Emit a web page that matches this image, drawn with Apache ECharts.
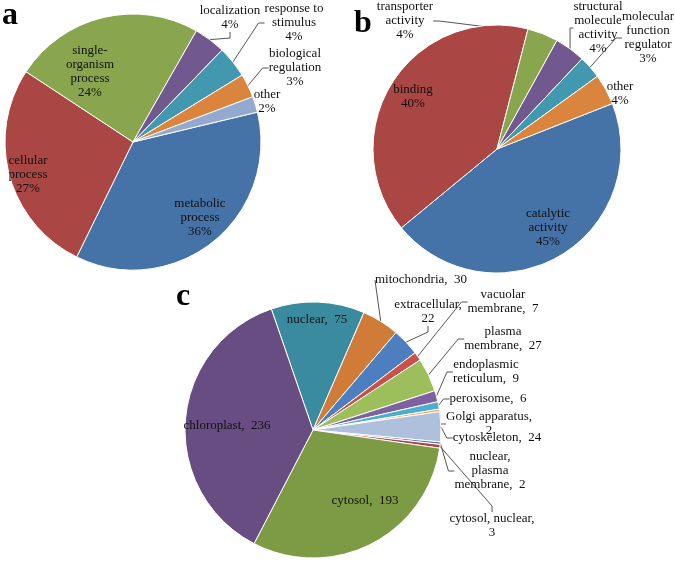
<!DOCTYPE html>
<html>
<head>
<meta charset="utf-8">
<script src="https://cdn.jsdelivr.net/npm/echarts@6/dist/echarts.min.js"></script>
<style>
  html, body { margin: 0; padding: 0; background: #fff; }
  #chart { width: 675px; height: 563px; }
</style>
</head>
<body>
<div id="chart"></div>
<script>
// panel a - biological process (%)
const namesA = ['metabolic\nprocess', 'cellular\nprocess', 'single-\norganism\nprocess', 'localization',
  'response to\nstimulus', 'biological\nregulation', 'other']
const valuesA = [36, 27, 24, 4, 4, 3, 2]
const colorsA = ['#4572A7', '#AA4643', '#89A54E', '#71588F', '#4198AF', '#DB843D', '#93A9CF']

// panel b - molecular function (%)
const namesB = ['catalytic\nactivity', 'binding', 'transporter\nactivity', 'structural\nmolecule\nactivity',
  'molecular\nfunction\nregulator', 'other']
const valuesB = [45, 40, 4, 4, 3, 4]
const colorsB = ['#4572A7', '#AA4643', '#89A54E', '#71588F', '#4198AF', '#DB843D']

// panel c - cellular component (counts)
const namesC = ['nuclear', 'mitochondria', 'extracellular', 'vacuolar\nmembrane', 'plasma\nmembrane',
  'endoplasmic\nreticulum', 'peroxisome', 'Golgi apparatus', 'cytoskeleton', 'nuclear,\nplasma\nmembrane',
  'cytosol, nuclear', 'cytosol', 'chloroplast']
const valuesC = [75, 30, 22, 7, 27, 9, 6, 2, 24, 2, 3, 193, 236]
const colorsC = ['#3B8BA0', '#D07C38', '#4C7EC0', '#C8504D', '#9DBF5B', '#7E62A0', '#4BAFCB', '#F9A24D',
  '#AFC0DC', '#4F81BD', '#B8403E', '#7D9B44', '#684D82']
// value goes on its own line for these labels
const wrapValueC = ['extracellular', 'Golgi apparatus', 'cytosol, nuclear']

// label anchors (center of text block) and which labels get a leader line
const labelPos = [
  [[200, 218], [28, 175], [90, 72], [230, 18], [294, 23], [295, 68], [267, 102]],
  [[548, 228], [413, 97], [405, 21], [598, 28], [648, 38], [620, 94]],
  [[317, 320], [421, 280], [428, 312], [503, 302], [503, 339], [486, 372], [488, 399], [489, 424],
    [497, 438], [490, 471], [492, 526], [365, 501], [227, 426]]
]
const leaders = [[3, 4, 5], [2, 3, 4], [1, 2, 3, 4, 5, 6, 7, 8, 9, 10]]

const font = 'Liberation Serif'

function makeSeries(idx, names, values, colors, center, radius, startAngle, fmt) {
  return {
    type: 'pie',
    center: center,
    radius: radius,
    startAngle: startAngle,
    clockwise: true,
    avoidLabelOverlap: false,
    animation: false,
    silent: true,
    itemStyle: { borderColor: '#fff', borderWidth: 1 },
    label: {
      show: true,
      position: 'outside',
      fontFamily: font,
      fontSize: 13,
      lineHeight: 14,
      color: '#111',
      formatter: fmt
    },
    labelLine: { show: false },
    labelLayout: function (p) {
      const pos = labelPos[idx][p.dataIndex]
      return { x: pos[0], y: pos[1], align: 'center', verticalAlign: 'middle', hideOverlap: false }
    },
    data: names.map((n, i) => ({
      name: n,
      value: values[i],
      itemStyle: { color: colors[i] },
      labelLine: {
        show: leaders[idx].includes(i),
        length: 4,
        length2: 6,
        smooth: false,
        lineStyle: { color: '#555', width: 1 }
      }
    }))
  }
}

const chart = echarts.init(document.getElementById('chart'))

const letterStyle = { fontFamily: font, fontSize: 32, fontWeight: 'bold', fill: '#000' }

chart.setOption({
  backgroundColor: '#fff',
  graphic: [
    { type: 'text', left: 2, top: 0, style: Object.assign({ text: 'a' }, letterStyle) },
    { type: 'text', left: 354, top: 8, style: Object.assign({ text: 'b' }, letterStyle) },
    { type: 'text', left: 176, top: 281, style: Object.assign({ text: 'c' }, letterStyle) }
  ],
  series: [
    makeSeries(0, namesA, valuesA, colorsA, [133, 142], 128, 13.5, '{b}\n{c}%'),
    makeSeries(1, namesB, valuesB, colorsB, [497, 149], 124, 21.5, '{b}\n{c}%'),
    makeSeries(2, namesC, valuesC, colorsC, [313, 430], 128, 109, function (p) {
      const plain = p.name.replace(/\n/g, ' ')
      return p.name + (wrapValueC.includes(plain) ? ',\n' : ',  ') + p.value
    })
  ]
})
</script>
</body>
</html>
